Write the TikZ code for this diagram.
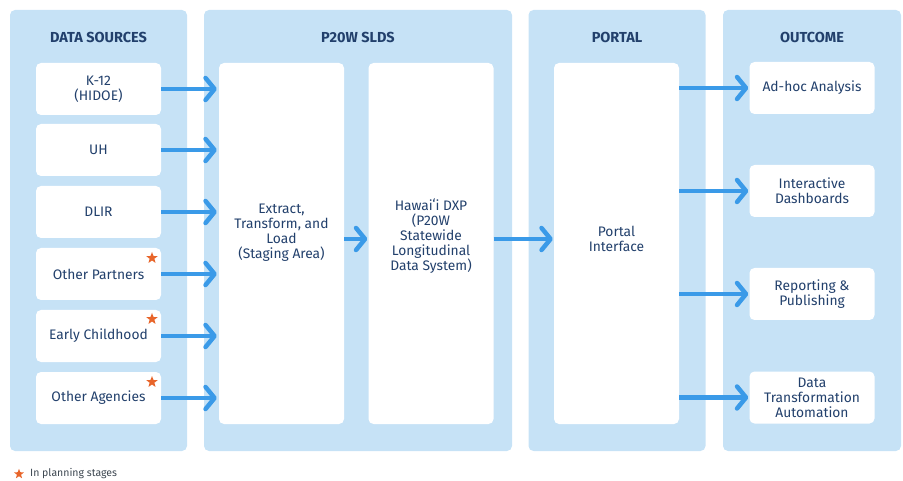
\documentclass[tikz,border=0pt]{standalone}
\usepackage{fontspec}
\setmainfont{Fira Sans}
\usetikzlibrary{arrows.meta,shapes.geometric}
\definecolor{panelblue}{HTML}{C6E2F6}
\definecolor{arrowblue}{HTML}{3A9AE8}
\definecolor{navy}{HTML}{22406C}
\definecolor{starorange}{HTML}{E8652A}
\definecolor{footgray}{HTML}{3C4650}
\begin{document}
\begin{tikzpicture}[x=1pt,y=-1pt,
  panel/.style={fill=panelblue, rounded corners=5pt, inner sep=0pt, minimum width=177pt, minimum height=441pt},
  paneltitle/.style={text=navy, font=\fontsize{14.5}{16}\selectfont\bfseries},
  box/.style={fill=white, rounded corners=5pt, inner sep=0pt, minimum width=125pt, minimum height=52pt,
    text=navy, align=center, font=\fontsize{13.8}{15}\selectfont},
  tallbox/.style={fill=white, rounded corners=5pt, inner sep=0pt, minimum width=125pt, minimum height=361pt},
  boxtext/.style={text=navy, align=center, font=\fontsize{13.8}{15}\selectfont},
  conn/.style={draw=arrowblue, line width=4.5pt, -{Straight Barb[length=9pt,width=22pt,round]}},
  mark5/.style={star, star points=5, star point ratio=2.4, fill=starorange, inner sep=0pt, minimum size=12pt}
]
\useasboundingbox (0,0) rectangle (903,481);
% panels
\node[panel] (pds) at (98.5,230.5) {};
\node[panel, minimum width=308pt] (psl) at (358,230.5) {};
\node[panel] (ppo) at (617,230.5) {};
\node[panel, minimum width=178pt] (pou) at (812,230.5) {};
\node[paneltitle] (tds) at (98.5,37) {DATA SOURCES};
\node[paneltitle] (tsl) at (358,37) {P20W SLDS};
\node[paneltitle] (tpo) at (617,37) {PORTAL};
\node[paneltitle] (tou) at (812,37) {OUTCOME};
% source boxes
\node[box] (k12) at (98.5,89) {K-12\\(HIDOE)};
\node[box] (uh) at (98.5,150) {UH};
\node[box] (dlir) at (98.5,212) {DLIR};
\node[box] (op) at (98.5,274) {Other Partners};
\node[box] (ec) at (98.5,336) {Early Childhood};
\node[box] (oa) at (98.5,398) {Other Agencies};
\node[mark5] (s1) at (152,258) {};
\node[mark5] (s2) at (152,319) {};
\node[mark5] (s3) at (152,382) {};
% tall boxes
\node[tallbox] (etl) at (281.5,243.5) {};
\node[boxtext] (etlt) at (281.5,233) {Extract,\\Transform, and\\Load\\(Staging Area)};
\node[tallbox] (dxp) at (431,243.5) {};
\node[boxtext] (dxpt) at (431,236) {Hawaiʻi DXP\\(P20W\\Statewide\\Longitudinal\\Data System)};
\node[tallbox] (por) at (616.5,243.5) {};
\node[boxtext] (port) at (616.5,239) {Portal\\Interface};
% outcome boxes
\node[box] (adh) at (812,88) {Ad-hoc Analysis};
\node[box] (idb) at (812,191) {Interactive\\Dashboards};
\node[box] (rep) at (812,294) {Reporting \&\\Publishing};
\node[box] (dta) at (812,397.5) {Data\\Transformation\\Automation};
% connectors
\foreach \s in {k12,uh,dlir,op,ec,oa}
  \draw[conn, shorten >=2pt] (\s.east) -- (\s.east -| etl.west);
\draw[conn, shorten >=1pt] (etl.east |- 0,239) coordinate (e1) -- (dxp.west |- e1);
\draw[conn, shorten >=1pt] (dxp.east |- 0,239) coordinate (e2) -- (por.west |- e2);
\foreach \o in {adh,idb,rep,dta}
  \draw[conn, shorten >=1pt] (por.east |- \o.west) -- (\o.west);
% footnote
\node[mark5, minimum size=10.5pt] (fs) at (19,474) {};
\node[anchor=west, text=footgray, font=\fontsize{10.5}{12}\selectfont, inner sep=0pt] (ft) at (30,474) {In planning stages};
\end{tikzpicture}
\end{document}
